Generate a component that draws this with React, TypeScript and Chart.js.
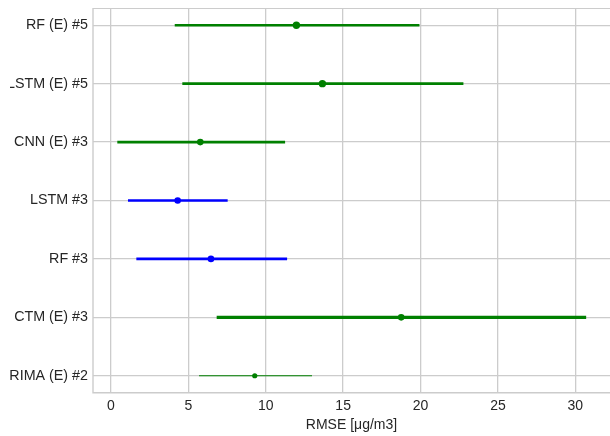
import React, { useEffect, useRef } from "react";
import { Chart, registerables } from "chart.js";

Chart.register(...registerables);

const categories = [
  "RF (E) #5",
  "LSTM (E) #5",
  "CNN (E) #3",
  "LSTM #3",
  "RF #3",
  "CTM (E) #3",
  "ARIMA (E) #2",
];
const means = [11.98, 13.66, 5.77, 4.31, 6.46, 18.75, 9.29];
const lows = [4.12, 4.61, 0.41, 1.1, 1.64, 6.83, 5.69];
const highs = [19.93, 22.77, 11.25, 7.54, 11.38, 30.7, 12.99];
const xTicks = [0, 5, 10, 15, 20, 25, 30];
const xTitle = "RMSE [μg/m3]";

// styling (not data)
const lineWidths = [2.6, 2.6, 2.6, 2.6, 2.6, 3.2, 1.2];
const pointRadii = [3.7, 3.7, 3.3, 3.3, 3.3, 3.3, 2.6];

const FONT = "'Liberation Sans', Arial, sans-serif";
const TEXT = "#262626";
const GRID = "#cccccc";

const colorFor = (label: string) => (label.includes("(E)") ? "#008000" : "#0000ff");

const framePlugin = {
  id: "frame",
  beforeDatasetsDraw(chart: any) {
    const { ctx, chartArea } = chart;
    const { left, top, right, bottom } = chartArea;
    ctx.save();
    ctx.strokeStyle = GRID;
    ctx.lineWidth = 1.4;
    ctx.beginPath();
    ctx.moveTo(right + 2, top);
    ctx.lineTo(left, top);
    ctx.lineTo(left, bottom);
    ctx.lineTo(right + 2, bottom);
    ctx.stroke();
    ctx.restore();
  },
};

export default function App() {
  const ref = useRef<HTMLCanvasElement | null>(null);

  useEffect(() => {
    if (!ref.current) return;
    const barSets = categories.map((c, i) => ({
      type: "line" as const,
      data: [
        { x: lows[i], y: i },
        { x: highs[i], y: i },
      ],
      borderColor: colorFor(c),
      borderWidth: lineWidths[i],
      borderCapStyle: "butt" as const,
      pointRadius: 0,
      showLine: true,
      fill: false,
      order: 2,
    }));
    const pointSet = {
      type: "scatter" as const,
      data: categories.map((c, i) => ({ x: means[i], y: i })),
      backgroundColor: categories.map((c) => colorFor(c)),
      borderColor: categories.map((c) => colorFor(c)),
      pointRadius: pointRadii,
      pointBorderWidth: 0,
      order: 1,
    };
    const chart = new Chart(ref.current, {
      type: "scatter",
      data: { datasets: [...barSets, pointSet] as any },
      plugins: [framePlugin],
      options: {
        animation: false,
        responsive: false,
        layout: { autoPadding: false, padding: { top: 0.3, right: 0, left: 0, bottom: 0 } },
        plugins: { legend: { display: false }, tooltip: { enabled: false } },
        scales: {
          x: {
            type: "linear",
            min: -1.16,
            max: 32.24,
            afterBuildTicks: (s: any) => {
              s.ticks = xTicks.map((v) => ({ value: v }));
            },
            afterFit: (s: any) => {
              s.height = 43.3;
              s.paddingLeft = 0;
              s.paddingRight = 0;
            },
            grid: { color: GRID, lineWidth: 1.3, drawTicks: false },
            border: { display: false },
            ticks: {
              padding: 5,
              color: TEXT,
              font: { family: FONT, size: 14 },
              callback: (v: any) => String(v),
            },
            title: {
              display: true,
              text: xTitle,
              color: TEXT,
              font: { family: FONT, size: 14 },
              padding: { top: 0, bottom: 2 },
            },
          },
          y: {
            type: "linear",
            min: -0.29,
            max: 6.29,
            reverse: true,
            afterBuildTicks: (s: any) => {
              s.ticks = categories.map((_, i) => ({ value: i }));
            },
            afterFit: (s: any) => {
              s.width = 85;
              s.paddingTop = 0;
              s.paddingBottom = 0;
            },
            grid: { color: GRID, lineWidth: 1.3, drawTicks: false },
            border: { display: false },
            ticks: {
              padding: 5,
              color: TEXT,
              font: { family: FONT, size: 14.3 },
              callback: (v: any) => categories[v] ?? "",
            },
          },
        },
      },
    });
    return () => chart.destroy();
  }, []);

  return (
    <div
      style={{
        position: "absolute",
        left: 10,
        top: 8,
        width: 600,
        height: 428,
        overflow: "hidden",
      }}
    >
      <canvas ref={ref} width={602} height={428} style={{ display: "block", marginLeft: -2 }} />
    </div>
  );
}
